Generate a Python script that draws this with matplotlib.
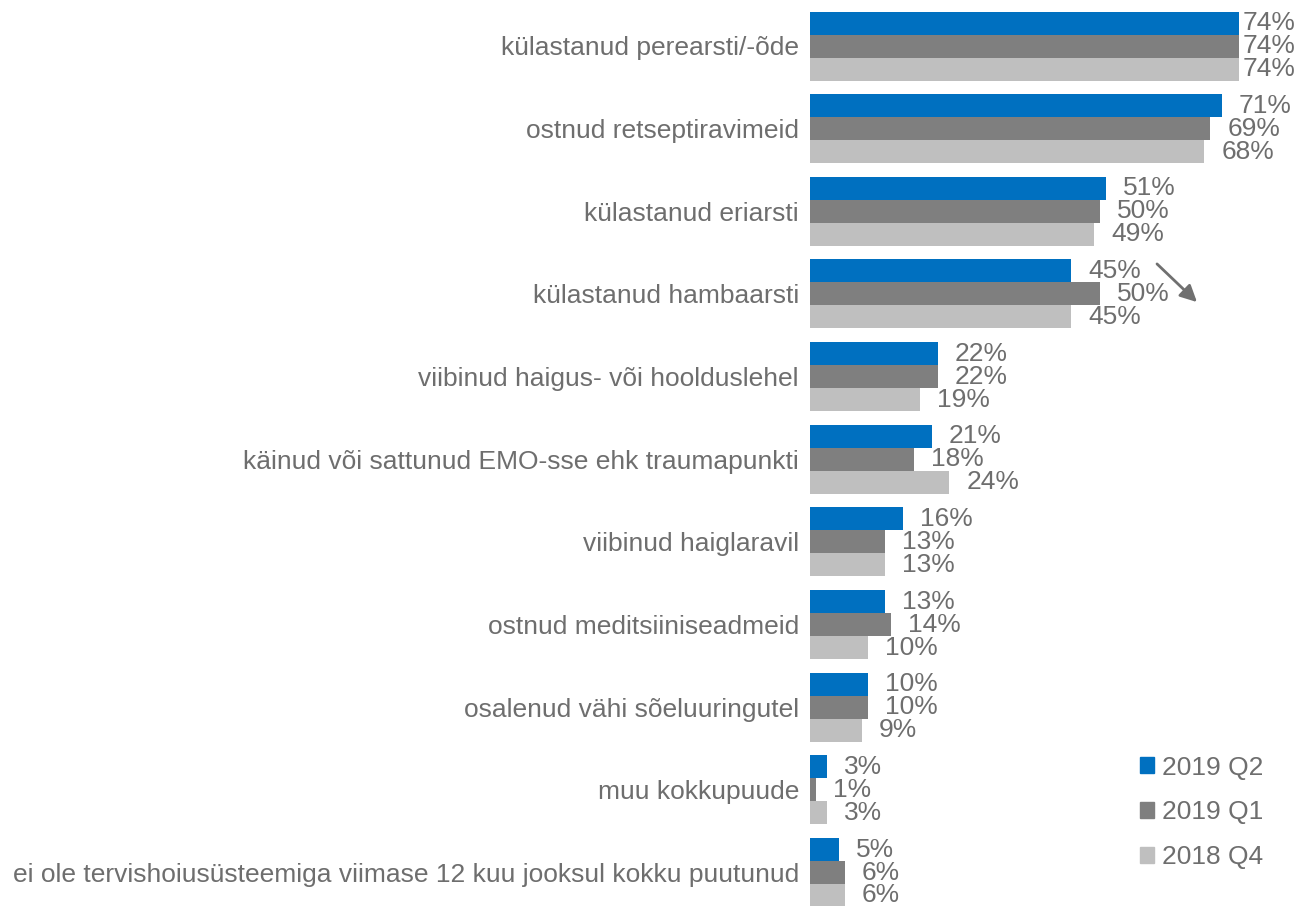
import matplotlib
matplotlib.use("Agg")
import matplotlib.pyplot as plt
from matplotlib.patches import Patch
import numpy as np

plt.rcParams['font.family'] = ['Liberation Sans', 'DejaVu Sans']

categories = [
    "külastanud perearsti/-õde",
    "ostnud retseptiravimeid",
    "külastanud eriarsti",
    "külastanud hambaarsti",
    "viibinud haigus- või hoolduslehel",
    "käinud või sattunud EMO-sse ehk traumapunkti",
    "viibinud haiglaravil",
    "ostnud meditsiiniseadmeid",
    "osalenud vähi sõeluuringutel",
    "muu kokkupuude",
    "ei ole tervishoiusüsteemiga viimase 12 kuu jooksul kokku puutunud",
]
q2_2019 = [74, 71, 51, 45, 22, 21, 16, 13, 10, 3, 5]
q1_2019 = [74, 69, 50, 50, 22, 18, 13, 14, 10, 1, 6]
q4_2018 = [74, 68, 49, 45, 19, 24, 13, 10, 9, 3, 6]
series = ["2019 Q2", "2019 Q1", "2018 Q4"]
colors = ["#0070C0", "#7F7F7F", "#BFBFBF"]
txt = "#6e6e6e"

W, H = 1309, 906
fig = plt.figure(figsize=(W / 100, H / 100), dpi=100)
ax = fig.add_axes([810 / W, 0, 1 - 810 / W, 1])

pxx = 5.8     # pixels per percent
pitch = 82.65 # pixels per group
bh = 23 / pitch
y = np.arange(len(categories))

vals = [q2_2019, q1_2019, q4_2018]
for k, (v, c, name) in enumerate(zip(vals, colors, series)):
    yy = y + (k - 1) * bh
    ax.barh(yy, v, height=bh, color=c, label=name)
    for yi, vi in zip(yy, v):
        xi = min(vi + 17 / pxx, (1243 - 810) / pxx)
        ax.text(xi, yi, f"{vi}%", va="center", ha="left", fontsize=19, color=txt)

ax.set_xlim(0, (W - 810) / pxx)
ax.set_ylim((H - 46) / pitch, -46 / pitch)
ax.set_yticks(y)
ax.set_yticklabels(categories, fontsize=19, color=txt)
ax.tick_params(axis="y", length=0, pad=8)
ax.set_xticks([])
for s in ax.spines.values():
    s.set_visible(False)

# arrow next to hambaarsti
ax.annotate("", xy=((1199 - 810) / pxx, (304 - 46) / pitch),
            xytext=((1155 - 810) / pxx, (262 - 46) / pitch),
            arrowprops=dict(arrowstyle="-|>", color="#707070", lw=2, mutation_scale=25))

handles = [Patch(color=c, label=n) for c, n in zip(colors, series)]
fig.legend(handles=handles, loc="upper left", bbox_to_anchor=(1116 / W, 1 - 732 / H),
           frameon=False, fontsize=19, labelcolor=txt, handlelength=0.55,
           handleheight=0.55, handletextpad=0.3, labelspacing=0.78)

fig.savefig("out.png", dpi=100)
